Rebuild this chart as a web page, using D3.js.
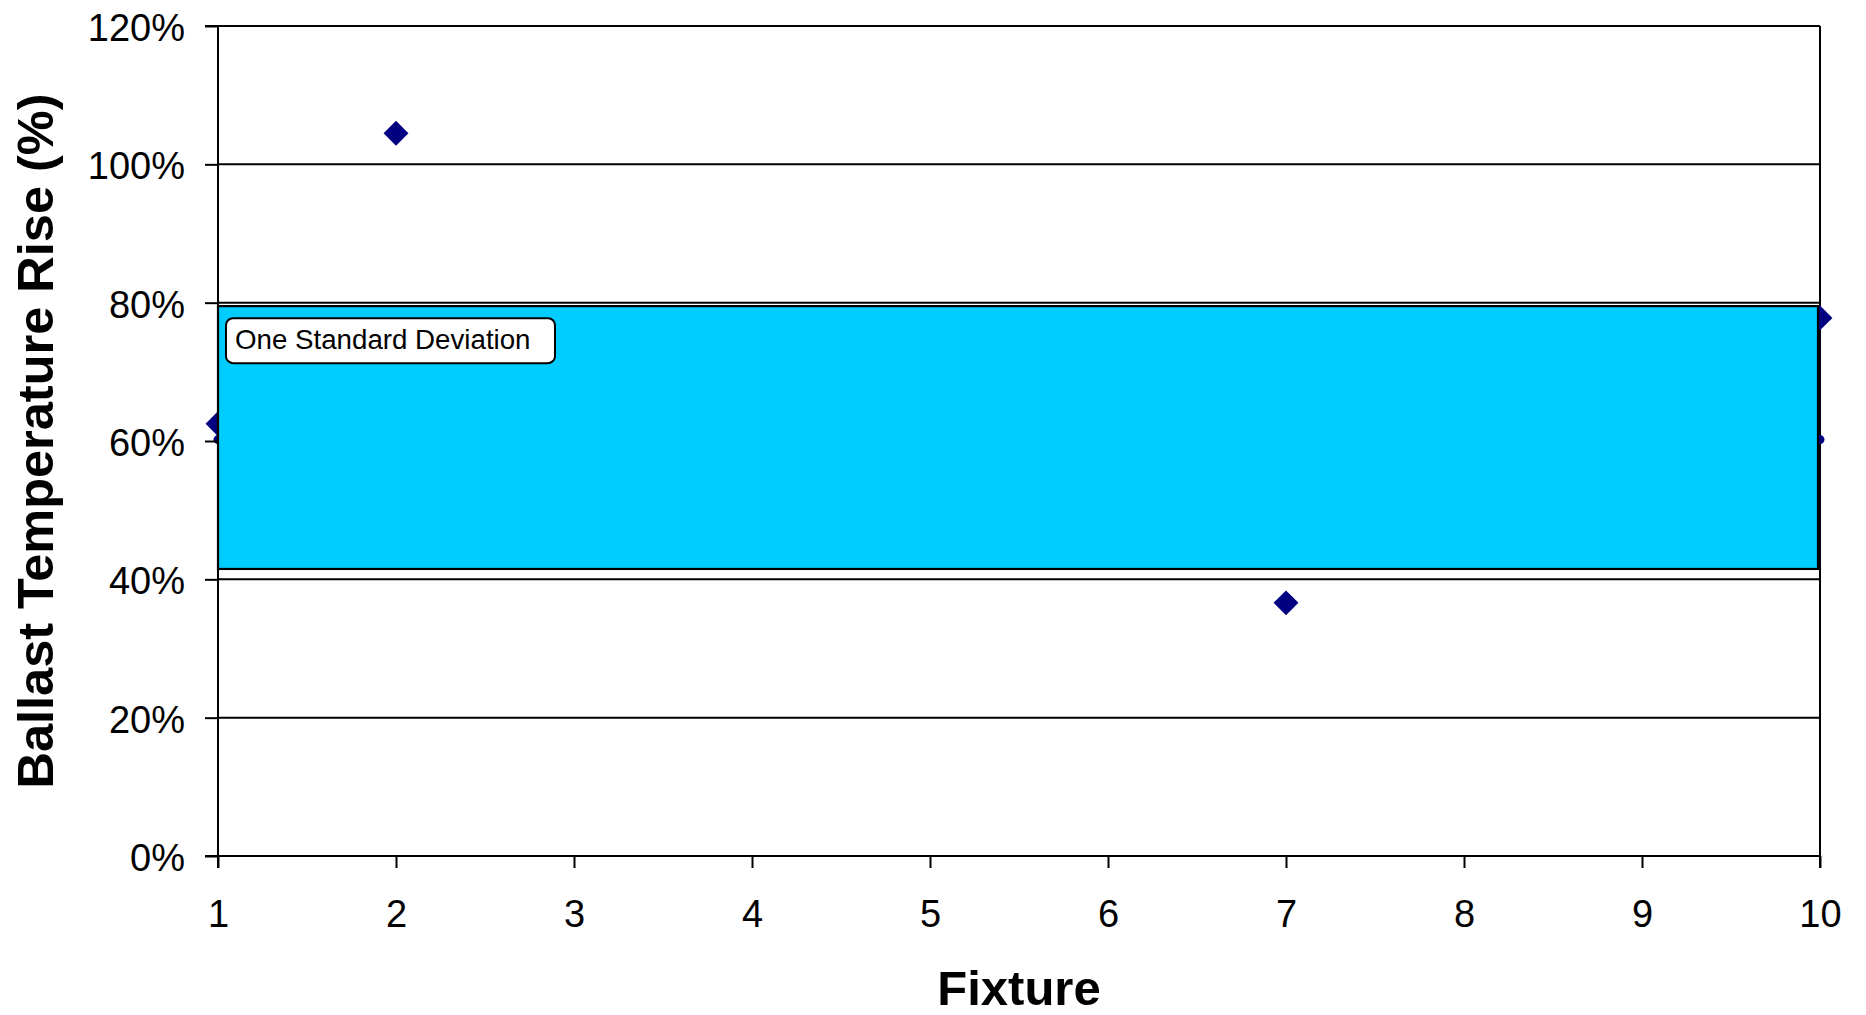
<!DOCTYPE html>
<html>
<head>
<meta charset="utf-8">
<script src="https://cdn.jsdelivr.net/npm/d3@7"></script>
<style>
  html, body { margin: 0; padding: 0; background: #fff; }
  svg { display: block; font-family: "Liberation Sans", Arial, sans-serif; }
</style>
</head>
<body>
<svg id="chart" width="1866" height="1015"></svg>
<script>
// Ballast temperature rise per fixture
const fixtures = [1, 2, 7, 10];
const risePct = [62.5, 104.5, 36.6, 77.8];

// Mean line endpoints (fixtures 1 and 10)
const meanFixtures = [1, 10];
const meanPct = [60.2, 60.2];

// One-standard-deviation band
const bandLow = 41.5;
const bandHigh = 79.5;
const bandLabel = "One Standard Deviation";

// Axis ticks
const xTicks = [1, 2, 3, 4, 5, 6, 7, 8, 9, 10];
const yTicks = [0, 20, 40, 60, 80, 100, 120];
const xTitle = "Fixture";
const yTitle = "Ballast Temperature Rise (%)";

const svg = d3.select("#chart");
const plotL = 218, plotR = 1820, plotT = 26, plotB = 856;

const x = d3.scaleLinear().domain([1, 10]).range([plotL, plotR]);
const y = d3.scaleLinear().domain([0, 120]).range([plotB, plotT]);

// Horizontal gridlines
svg.append("g")
  .selectAll("line")
  .data(yTicks)
  .join("line")
  .attr("x1", plotL).attr("x2", plotR)
  .attr("y1", d => y(d)).attr("y2", d => y(d))
  .attr("stroke", "#000").attr("stroke-width", 2);

// Right border of plot area
svg.append("line")
  .attr("x1", plotR).attr("x2", plotR)
  .attr("y1", y(120)).attr("y2", y(0))
  .attr("stroke", "#000").attr("stroke-width", 2);

// Data points (diamonds)
const diamond = d3.symbol().type(d3.symbolSquare).size(310);
svg.append("g")
  .selectAll("path")
  .data(fixtures.map((f, i) => ({ f, v: risePct[i] })))
  .join("path")
  .attr("d", diamond)
  .attr("transform", d => `translate(${x(d.f)},${y(d.v)}) rotate(45)`)
  .attr("fill", "#000080");

// Mean markers
svg.append("g")
  .selectAll("circle")
  .data(meanFixtures.map((f, i) => ({ f, v: meanPct[i] })))
  .join("circle")
  .attr("cx", d => x(d.f)).attr("cy", d => y(d.v))
  .attr("r", 4.5)
  .attr("fill", "#000080");

// Standard deviation band
const bandX = x(1), bandW = x(10) - x(1) - 2;
svg.append("rect")
  .attr("x", bandX)
  .attr("y", y(bandHigh))
  .attr("width", bandW)
  .attr("height", y(bandLow) - y(bandHigh))
  .attr("fill", "#00CCFF")
  .attr("stroke", "#000")
  .attr("stroke-width", 2.2);

// Band label
const lbl = svg.append("g").attr("transform", `translate(${bandX + 8},${y(bandHigh) + 12})`);
lbl.append("rect")
  .attr("width", 329).attr("height", 45)
  .attr("rx", 7).attr("ry", 7)
  .attr("fill", "#fff").attr("stroke", "#000").attr("stroke-width", 2);
lbl.append("text")
  .attr("x", 9).attr("y", 31)
  .attr("font-size", 27.7)
  .attr("fill", "#000")
  .text(bandLabel);

// Axes
const yAxis = d3.axisLeft(y)
  .tickValues(yTicks)
  .tickSize(13)
  .tickPadding(20)
  .tickFormat(d => d + "%");
const gy = svg.append("g").attr("transform", `translate(${plotL},0)`).call(yAxis);

const xAxis = d3.axisBottom(x)
  .tickValues(xTicks)
  .tickSize(12)
  .tickPadding(32)
  .tickFormat(d3.format("d"));
const gx = svg.append("g").attr("transform", `translate(0,${plotB})`).call(xAxis);

[gx, gy].forEach(g => {
  g.select(".domain").attr("stroke", "#000").attr("stroke-width", 2);
  g.selectAll(".tick line").attr("stroke", "#000").attr("stroke-width", 2);
  g.selectAll(".tick text")
    .attr("fill", "#000")
    .attr("font-size", 38)
    .attr("font-family", "'Liberation Sans', Arial, sans-serif");
});
gy.select(".domain").attr("d", `M-13,${plotT}H0V${plotB}H-13`);
gy.selectAll(".tick text").attr("dy", "0.38em");
gx.select(".domain").attr("d", `M${plotL},12V0H${plotR}V12`);

// Axis titles
svg.append("text")
  .attr("x", (plotL + plotR) / 2)
  .attr("y", 1005)
  .attr("text-anchor", "middle")
  .attr("font-weight", "bold")
  .attr("font-size", 49)
  .text(xTitle);

svg.append("text")
  .attr("transform", `translate(53,${(plotT + plotB) / 2}) rotate(-90)`)
  .attr("text-anchor", "middle")
  .attr("font-weight", "bold")
  .attr("font-size", 50.5)
  .text(yTitle);
</script>
</body>
</html>
